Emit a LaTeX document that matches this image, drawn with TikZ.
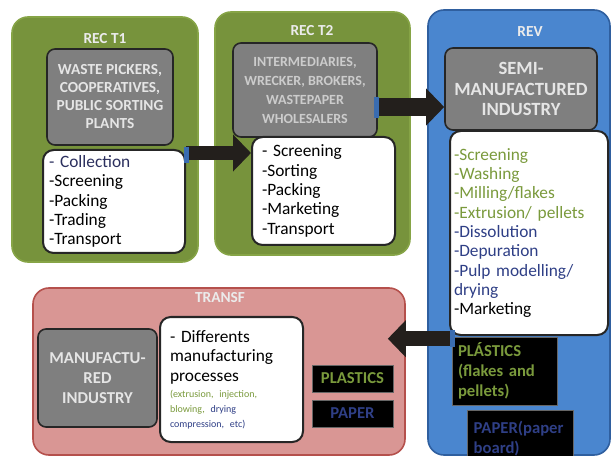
\documentclass[tikz,border=0pt]{standalone}
\usepackage{fontspec}
\setmainfont{Carlito}
\usepackage{tikz}
\usetikzlibrary{arrows.meta,calc,positioning}

\definecolor{recgreen}{HTML}{77933C}
\definecolor{recline}{HTML}{86A446}
\definecolor{revblue}{HTML}{4A86CF}
\definecolor{revline}{HTML}{2F5F9F}
\definecolor{transfpink}{HTML}{D99694}
\definecolor{transfline}{HTML}{B5504C}
\definecolor{actorgray}{HTML}{7F7F7F}
\definecolor{flowdark}{HTML}{231F1C}
\definecolor{tailblue}{HTML}{3A6CB0}
\definecolor{plastgreen}{HTML}{7A9A3C}
\definecolor{paperblue}{HTML}{2F3F86}
\definecolor{listnavy}{HTML}{2B2F5E}

\begin{document}
\begin{tikzpicture}[x=0.75pt, y=-0.75pt]
\tikzstyle{stage}=[draw, line width=1.2pt, rounded corners=12pt, inner sep=0pt]
\tikzstyle{heading}=[text=white!92!black, font=\fontsize{11.5}{13}\selectfont\bfseries]
\tikzstyle{actor}=[draw=black!85, line width=1.2pt, fill=actorgray, rounded corners=6pt, text=white!90!black, align=center, inner sep=2pt]
\tikzstyle{tasks}=[draw=black!85, line width=1.5pt, fill=white, rounded corners=8pt, align=left, font=\fontsize{13}{14.5}\selectfont]
\tikzstyle{product}=[draw=black!60, fill=black, font=\fontsize{12.5}{15}\selectfont\bfseries, inner sep=2pt]
\tikzstyle{flow}=[draw=flowdark, line width=11pt, -{Triangle[length=13.5pt, width=27pt]}]
\tikzstyle{tail}=[fill=tailblue]

\path[use as bounding box, clip] (0,0) rectangle (611,456);

% stages
\node[stage, fill=recgreen, draw=recline, minimum width=139.5pt, minimum height=183.75pt] (t1) at (105,139.5) {};
\node[stage, fill=recgreen, draw=recline, minimum width=146.25pt, minimum height=182.25pt] (t2) at (312.5,133.5) {};
\node[stage, fill=revblue, draw=revline, minimum width=136.5pt, minimum height=333.75pt] (rev) at (519,232.5) {};
\node[stage, fill=transfpink, draw=transfline, minimum width=279pt, minimum height=125.25pt] (transf) at (219,371.5) {};

\node[heading] (t1title) at (105,39) {REC T1};
\node[heading] (t2title) at (312,31) {REC T2};
\node[heading] (revtitle) at (530,32) {REV};
\node[heading] (transftitle) at (220,298) {TRANSF};

% actors
\node[actor, minimum width=94.5pt, minimum height=72pt, font=\fontsize{11.5}{13.5}\selectfont\bfseries] (t1actor) at (110,97) {WASTE PICKERS,\\COOPERATIVES,\\PUBLIC SORTING\\PLANTS};
\node[actor, minimum width=108pt, minimum height=70.5pt, font=\fontsize{10.5}{14.25}\selectfont\bfseries, text=white!80!black] (t2actor) at (305,90) {INTERMEDIARIES,\\WRECKER, BROKERS,\\WASTEPAPER\\WHOLESALERS};
\node[actor, minimum width=114pt, minimum height=61.5pt, font=\fontsize{14}{15.5}\selectfont\bfseries] (revactor) at (521,89) {SEMI-\\MANUFACTURED\\INDUSTRY};
\node[actor, minimum width=89.25pt, minimum height=73.5pt, font=\fontsize{12.5}{15}\selectfont\bfseries] (transfactor) at (97.5,378) {MANUFACTU-\\RED\\INDUSTRY};

% tasks
\node[tasks, inner xsep=4.5pt, text width=97.5pt, minimum height=77.25pt] (t1tasks) at (114,201.5) {{\color{listnavy}- Collection}\\-Screening\\-Packing\\-Trading\\-Transport};
\node[tasks, inner xsep=7.5pt, text width=92.25pt, minimum height=81pt] (t2tasks) at (323.5,191) {- Screening\\-Sorting\\-Packing\\-Marketing\\-Transport};
\node[tasks, inner xsep=3pt, text width=112.5pt, minimum height=153pt] (revtasks) at (529,233) {{\color{plastgreen}-Screening}\\{\color{plastgreen}-Washing}\\{\color{plastgreen}-Milling/flakes}\\{\color{plastgreen}-Extrusion/ pellets}\\{\color{paperblue}-Dissolution}\\{\color{paperblue}-Depuration}\\{\color{paperblue}-Pulp modelling/}\\{\color{paperblue}drying}\\-Marketing\\[4pt]};
\node[tasks, inner xsep=7.5pt, text width=92.25pt, minimum height=93.75pt] (transftasks) at (231.5,379.5) {- Differents\\manufacturing\\processes\\[-2.5pt]{\fontsize{7.5}{11}\selectfont\color{plastgreen}(extrusion, injection,}\\[-3.25pt]{\fontsize{7.5}{11}\selectfont\color{plastgreen}blowing, {\color{paperblue}drying}}\\[-3.25pt]{\fontsize{7.5}{11}\selectfont\color{paperblue}compression, etc)}};

% products
\node[product, text width=69.75pt, inner xsep=4.5pt, minimum height=51pt, text=plastgreen, align=left] (revplast) at (504.5,371) {PLÁSTICS\\(flakes and\\pellets)};
\node[product, text width=69.5pt, inner xsep=5pt, minimum height=42.75pt, text=paperblue, align=left] (revpaper) at (520,438.5) {PAPER(paper\\board)};
\node[product, minimum width=60.75pt, minimum height=20.25pt, text=plastgreen] (transfplast) at (352.5,378.5) {PLASTICS};
\node[product, minimum width=60.75pt, minimum height=20.25pt, text=paperblue] (transfpaper) at (352.5,413.5) {PAPER};

% flows
\draw[flow] ($(t1tasks.north east)+(0,4)$) -- ($(t1tasks.north east -| t2tasks.west)+(0,4)$);
\fill[tail] ($(t1tasks.north east)+(-2,-2)$) rectangle +(5,16);
\draw[flow, line width=13pt] ($(t2actor.east)+(0,17)$) -- ($(t2actor.east -| revactor.west)+(0,17)$);
\fill[tail] ($(t2actor.east)+(-4,7)$) rectangle +(5,21);
\draw[flow] ($(revplast.north west)+(0,2)$) -- ($(revplast.north west -| transf.east)+(-18,2)$);
\fill[tail] ($(revplast.north west)+(-2,-7)$) rectangle +(5,17);

\end{tikzpicture}
\end{document}
